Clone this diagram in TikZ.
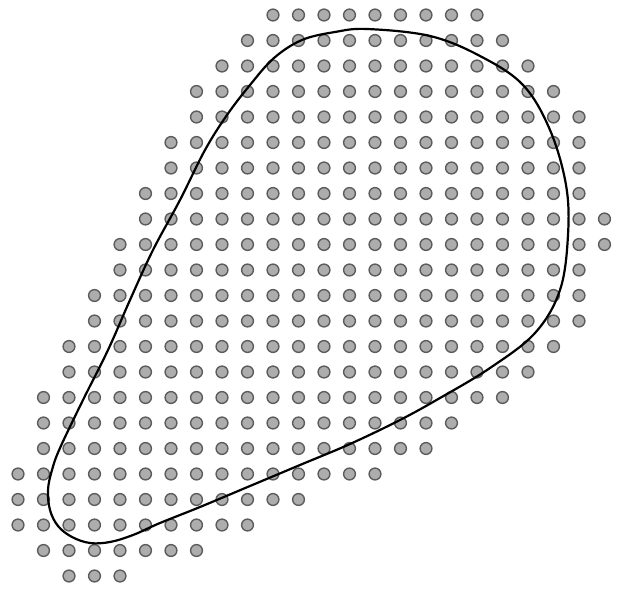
\documentclass[tikz,border=0pt]{standalone}
\begin{document}
\begin{tikzpicture}[x=1pt,y=-1pt,
  dot/.style={fill=black!32,draw=black!64,line width=1.4pt},
  outline/.style={draw=black,line width=2.2pt}]
\useasboundingbox (0,0) rectangle (618,593);
\foreach \j/\a/\b in {0/10/18,1/9/19,2/8/20,3/7/21,4/7/22,5/6/22,6/6/22,7/5/22,8/5/23,9/4/23,10/4/22,11/3/22,12/3/22,13/2/21,14/2/20,15/1/19,16/1/17,17/1/16,18/0/14,19/0/11,20/0/9,21/1/7,22/2/4}{
  \foreach \i in {\a,...,\b}{
    \path[dot] ({18+25.5*\i},{15+25.5*\j}) circle[radius=5.9];
  }
}
\draw[outline] plot[smooth cycle,tension=0.6] coordinates {
(302,40) (335,32) (367,29) (430,36) (480,56) (523,85) (550,130) (566,185) (568,235)
(560,290) (535,333) (490,368) (440,398) (400,420) (350,444) (300,465)
(250,486) (200,507) (160,523) (133,535) (110,542) (90,543) (72,537)
(58,526) (50,510) (48,490) (52,470) (60,448) (83,400) (108,350) (130,300)
(153,250) (180,200) (205,150) (227,115) (250,85) (274,58)};
\end{tikzpicture}
\end{document}
